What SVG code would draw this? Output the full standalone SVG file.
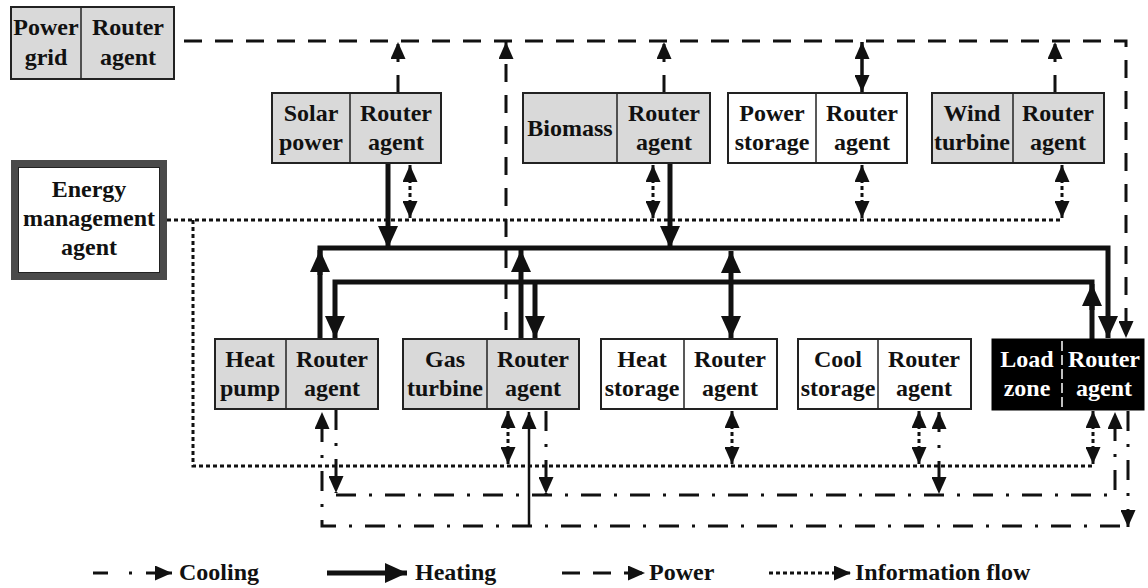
<svg xmlns="http://www.w3.org/2000/svg" width="1148" height="588" viewBox="0 0 1148 588">
<defs>
<style>
.box{stroke:#222;stroke-width:2}
.g{fill:#d9d9d9}
.w{fill:#fff}
.div{stroke:#222;stroke-width:1.5}
.t{font-family:"Liberation Serif","Times New Roman",serif;font-weight:bold;font-size:24px;fill:#111;text-anchor:middle}
.tw{fill:#fff}
.pw{stroke:#111;stroke-width:3;fill:none;stroke-dasharray:18 13}
.inf{stroke:#111;stroke-width:3;fill:none;stroke-dasharray:4 3}
.ht{stroke:#111;stroke-width:5;fill:none}
.cl{stroke:#111;stroke-width:3;fill:none;stroke-dasharray:20 13 3 13}
.sl{stroke:#111;stroke-width:3;fill:none}
.lg{font-family:"Liberation Serif","Times New Roman",serif;font-weight:bold;font-size:24px;fill:#111}
</style>
<marker id="a" markerUnits="userSpaceOnUse" markerWidth="17" markerHeight="15" refX="17" refY="7.5" orient="auto-start-reverse"><path d="M0,0 L17,7.5 L0,15 z" fill="#111"/></marker>
<marker id="h" markerUnits="userSpaceOnUse" markerWidth="22" markerHeight="20" refX="22" refY="10" orient="auto-start-reverse"><path d="M0,0 L22,10 L0,20 z" fill="#111"/></marker>
</defs>
<rect width="1148" height="588" fill="#fff"/>

<g id="connectors">
<!-- power -->
<path class="pw" d="M184 41 H1126 V338" marker-end="url(#a)"/>
<path class="pw" d="M398 93 V42" marker-end="url(#a)"/>
<path class="pw" d="M664 93 V42" marker-end="url(#a)"/>
<path class="sl" style="stroke-width:3.5" d="M862 92 V42" marker-start="url(#a)" marker-end="url(#a)"/>
<path class="pw" d="M1055 93 V42" marker-end="url(#a)"/>
<path class="pw" d="M506 330 V42" marker-end="url(#a)"/>
<!-- information -->
<path class="inf" d="M167 220 H1062"/>
<path class="inf" d="M193 220 V466 H1093"/>
<path class="inf" d="M410 165 V218" marker-start="url(#a)" marker-end="url(#a)"/>
<path class="inf" d="M653 165 V218" marker-start="url(#a)" marker-end="url(#a)"/>
<path class="inf" d="M862 165 V218" marker-start="url(#a)" marker-end="url(#a)"/>
<path class="inf" d="M1062 165 V218" marker-start="url(#a)" marker-end="url(#a)"/>
<path class="inf" d="M508 411 V464" marker-start="url(#a)" marker-end="url(#a)"/>
<path class="inf" d="M732 411 V464" marker-start="url(#a)" marker-end="url(#a)"/>
<path class="inf" d="M919 411 V464" marker-start="url(#a)" marker-end="url(#a)"/>
<path class="inf" d="M1093 411 V464" marker-start="url(#a)" marker-end="url(#a)"/>
<!-- heating -->
<path class="ht" d="M320 339 V248 H1108 V338" marker-end="url(#h)"/>
<path class="ht" d="M320 275 V250" marker-end="url(#h)"/>
<path class="ht" d="M1092 339 V282 H335 V338" marker-end="url(#h)"/>
<path class="ht" d="M1092 310 V284" marker-end="url(#h)"/>
<path class="ht" d="M388 163 V248" marker-end="url(#h)"/>
<path class="ht" d="M670 163 V248" marker-end="url(#h)"/>
<path class="ht" d="M521 339 V250" marker-end="url(#h)"/>
<path class="ht" d="M535 282 V338" marker-end="url(#h)"/>
<path class="ht" d="M731 251 V338" marker-start="url(#h)" marker-end="url(#h)"/>
<!-- cooling -->
<path class="cl" d="M336 410 V493" marker-end="url(#a)"/>
<path class="cl" d="M336 495 H1115 V412" marker-end="url(#a)"/>
<path class="cl" d="M1120 526 H322 V412" marker-end="url(#a)"/>
<path class="cl" d="M1128 411 V527" marker-end="url(#a)"/>
<path class="sl" style="stroke-width:2.5" d="M529 526 V412" marker-end="url(#a)"/>
<path class="cl" d="M546 411 V494" marker-end="url(#a)"/>
<path class="cl" d="M939 412 V494" marker-start="url(#a)" marker-end="url(#a)"/>
</g>

<g id="power-grid">
<rect class="box g" x="11" y="7" width="163" height="72"/>
<line class="div" x1="81" y1="7" x2="81" y2="79"/>
<text class="t" x="46" y="35">Power</text><text class="t" x="46" y="65">grid</text>
<text class="t" x="128" y="35">Router</text><text class="t" x="128" y="65">agent</text>
</g>

<g id="energy-management-agent">
<rect x="14.5" y="163.5" width="149" height="113" fill="#fff" stroke="#4a4a4a" stroke-width="7"/>
<rect x="18.5" y="167.5" width="141" height="105" fill="none" stroke="#222" stroke-width="1"/>
<text class="t" x="89" y="197">Energy</text>
<text class="t" x="89" y="226">management</text>
<text class="t" x="89" y="255">agent</text>
</g>

<g id="solar-power">
<rect class="box g" x="272" y="93" width="169" height="70"/>
<line class="div" x1="350" y1="93" x2="350" y2="163"/>
<text class="t" x="311" y="121">Solar</text><text class="t" x="311" y="150">power</text>
<text class="t" x="396" y="121">Router</text><text class="t" x="396" y="150">agent</text>
</g>

<g id="biomass">
<rect class="box g" x="523" y="93" width="187" height="70"/>
<line class="div" x1="617" y1="93" x2="617" y2="163"/>
<text class="t" x="570" y="136">Biomass</text>
<text class="t" x="664" y="121">Router</text><text class="t" x="664" y="150">agent</text>
</g>

<g id="power-storage">
<rect class="box w" x="728" y="93" width="179" height="70"/>
<line class="div" x1="816" y1="93" x2="816" y2="163"/>
<text class="t" x="772" y="121">Power</text><text class="t" x="772" y="150">storage</text>
<text class="t" x="862" y="121">Router</text><text class="t" x="862" y="150">agent</text>
</g>

<g id="wind-turbine">
<rect class="box g" x="932" y="93" width="172" height="70"/>
<line class="div" x1="1013" y1="93" x2="1013" y2="163"/>
<text class="t" x="972" y="121">Wind</text><text class="t" x="972" y="150">turbine</text>
<text class="t" x="1058" y="121">Router</text><text class="t" x="1058" y="150">agent</text>
</g>

<g id="heat-pump">
<rect class="box g" x="215" y="339" width="163" height="70"/>
<line class="div" x1="286" y1="339" x2="286" y2="409"/>
<text class="t" x="250" y="367">Heat</text><text class="t" x="250" y="396">pump</text>
<text class="t" x="332" y="367">Router</text><text class="t" x="332" y="396">agent</text>
</g>

<g id="gas-turbine">
<rect class="box g" x="403" y="339" width="176" height="70"/>
<line class="div" x1="487" y1="339" x2="487" y2="409"/>
<text class="t" x="445" y="367">Gas</text><text class="t" x="445" y="396">turbine</text>
<text class="t" x="533" y="367">Router</text><text class="t" x="533" y="396">agent</text>
</g>

<g id="heat-storage">
<rect class="box w" x="601" y="339" width="176" height="70"/>
<line class="div" x1="684" y1="339" x2="684" y2="409"/>
<text class="t" x="642" y="367">Heat</text><text class="t" x="642" y="396">storage</text>
<text class="t" x="730" y="367">Router</text><text class="t" x="730" y="396">agent</text>
</g>

<g id="cool-storage">
<rect class="box w" x="798" y="339" width="173" height="70"/>
<line class="div" x1="878" y1="339" x2="878" y2="409"/>
<text class="t" x="838" y="367">Cool</text><text class="t" x="838" y="396">storage</text>
<text class="t" x="924" y="367">Router</text><text class="t" x="924" y="396">agent</text>
</g>

<g id="load-zone">
<rect x="992" y="339" width="152" height="71" fill="#000" stroke="#000" stroke-width="1"/>
<line x1="1062" y1="341" x2="1062" y2="408" stroke="#fff" stroke-width="1.5" stroke-dasharray="10 4"/>
<text class="t tw" x="1027" y="367">Load</text><text class="t tw" x="1027" y="396">zone</text>
<text class="t tw" x="1104" y="367">Router</text><text class="t tw" x="1104" y="396">agent</text>
</g>

<g id="legend">
<line class="sl" x1="93" y1="573" x2="108" y2="573"/>
<line class="sl" x1="129" y1="573" x2="132" y2="573"/>
<path class="sl" d="M146 573 H172" marker-end="url(#a)"/>
<text class="lg" x="179" y="580">Cooling</text>
<path class="ht" d="M327 573 H407" marker-end="url(#h)"/>
<text class="lg" x="415" y="580">Heating</text>
<path class="pw" d="M562 573 H645" marker-end="url(#a)"/>
<text class="lg" x="649" y="580">Power</text>
<path class="inf" d="M769 573 H851" marker-end="url(#a)"/>
<text class="lg" x="855" y="580">Information flow</text>
</g>
</svg>
